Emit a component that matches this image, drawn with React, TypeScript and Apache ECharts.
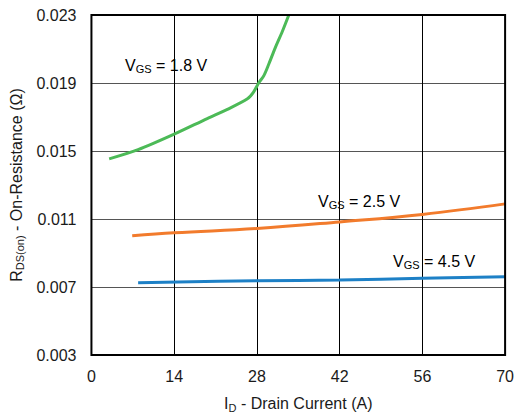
import React, { useEffect, useRef } from "react";
import * as echarts from "echarts";

const xTicks = [0, 14, 28, 42, 56, 70];
const yTicks = [0.003, 0.007, 0.011, 0.015, 0.019, 0.023];

const vgs18: [number, number][] = [
  [3, 0.01454], [7.9, 0.01508], [14, 0.01599], [19.6, 0.01691], [23, 0.01745],
  [26.4, 0.01807], [27.4, 0.01845], [28.3, 0.019], [29.2, 0.01945], [30.0, 0.0201],
  [31.1, 0.02107], [32.3, 0.02203], [33.4, 0.023],
];
const vgs25: [number, number][] = [
  [6.9, 0.01001], [14, 0.01019], [28, 0.01044], [42, 0.01083], [56, 0.01127], [70, 0.01189],
];
const vgs45: [number, number][] = [
  [7.9, 0.00725], [28, 0.00737], [42, 0.00741], [56, 0.00752], [70, 0.0076],
];

const FONT = "'Liberation Sans', Arial, Helvetica, sans-serif";
const TXT = "#1a1a1a";

const rich = {
  v: { fontSize: 16, fontFamily: FONT, color: TXT, lineHeight: 19 },
  s: { fontSize: 11, fontFamily: FONT, color: TXT, lineHeight: 10, verticalAlign: "bottom" as const },
};

function label(x: number, y: number, t: string) {
  return {
    type: "text",
    left: x,
    top: y,
    style: {
      text: `{v|V}{s|GS}{v| = ${t}}`,
      rich,
    },
    z: 100,
  };
}

export default function App() {
  const ref = useRef<HTMLDivElement>(null);
  useEffect(() => {
    const chart = echarts.init(ref.current!, undefined, { renderer: "svg" });
    chart.setOption({
      animation: false,
      backgroundColor: "#ffffff",
      grid: {
        left: 90,
        right: 11,
        top: 15,
        bottom: 58,
        show: true,
        borderColor: "#000",
        borderWidth: 2,
        z: 10,
      },
      xAxis: {
        type: "value",
        min: xTicks[0],
        max: xTicks[xTicks.length - 1],
        interval: 14,
        axisLine: { show: false },
        axisTick: { show: false },
        splitLine: { show: true, lineStyle: { color: "#000", width: 1 } },
        axisLabel: { fontSize: 16, fontFamily: FONT, color: TXT, margin: 13 },
        name: "{v|I}{s|D}{v| - Drain Current (A)}",
        nameLocation: "middle",
        nameGap: 39,
        nameTextStyle: { rich: { v: { ...rich.v }, s: { ...rich.s } } },
      },
      yAxis: {
        type: "value",
        min: yTicks[0],
        max: yTicks[yTicks.length - 1],
        interval: 0.004,
        axisLine: { show: false },
        axisTick: { show: false },
        splitLine: { show: true, lineStyle: { color: "#555", width: 1 } },
        axisLabel: {
          fontSize: 16,
          fontFamily: FONT,
          color: TXT,
          margin: 15,
          formatter: (v: number) => v.toFixed(3),
        },
        name: "{v|R}{s|DS(on)}{v| - On-Resistance (Ω)}",
        nameLocation: "middle",
        nameRotate: 90,
        nameGap: 64,
        nameTextStyle: { rich: { v: { ...rich.v }, s: { ...rich.s } } },
      },
      series: [
        {
          type: "line",
          data: vgs18,
          showSymbol: false,
          smooth: 0.3,
          lineStyle: { color: "#4cba57", width: 3 },
          z: 5,
        },
        {
          type: "line",
          data: vgs25,
          showSymbol: false,
          smooth: 0.4,
          lineStyle: { color: "#f27b2c", width: 3 },
          z: 5,
        },
        {
          type: "line",
          data: vgs45,
          showSymbol: false,
          smooth: 0.4,
          lineStyle: { color: "#1d80c6", width: 3 },
          z: 5,
        },
      ],
      graphic: [
        label(125, 57, "1.8 V"),
        label(318, 193, "2.5 V"),
        label(393, 253, "4.5 V"),
      ],
    });
    return () => chart.dispose();
  }, []);
  return (
    <div
      ref={ref}
      style={{ position: "fixed", left: 0, top: 0, width: 517, height: 418 }}
    />
  );
}
